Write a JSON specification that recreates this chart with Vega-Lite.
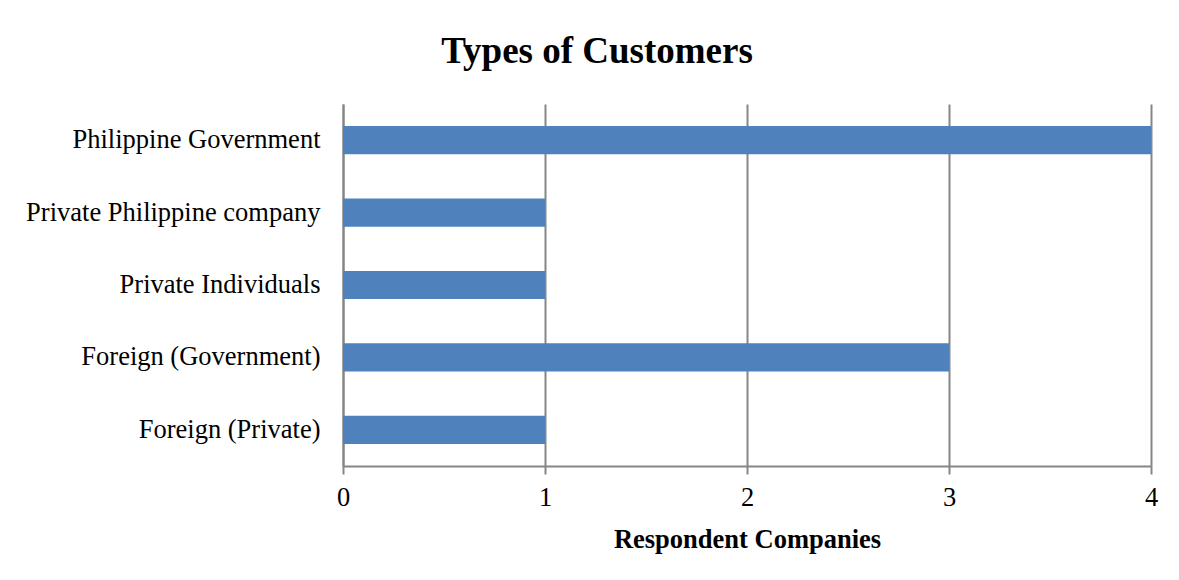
{
  "$schema": "https://vega.github.io/schema/vega-lite/v6.json",
  "width": 808,
  "height": 362,
  "autosize": {"type": "none"},
  "padding": {"left": 343, "top": 104, "right": 28, "bottom": 114},
  "background": "white",
  "title": {
    "text": "Types of Customers",
    "font": "Liberation Serif",
    "fontSize": 37,
    "fontWeight": "bold",
    "color": "#000000",
    "anchor": "middle",
    "frame": "group",
    "dx": -150,
    "offset": 33
  },
  "config": {
    "view": {"stroke": null},
    "axis": {
      "labelFont": "Liberation Serif",
      "titleFont": "Liberation Serif",
      "labelColor": "#000000",
      "titleColor": "#000000"
    }
  },
  "data": {
    "values": [
      {"customer": "Philippine Government", "count": 4},
      {"customer": "Private Philippine company", "count": 1},
      {"customer": "Private Individuals", "count": 1},
      {"customer": "Foreign (Government)", "count": 3},
      {"customer": "Foreign (Private)", "count": 1}
    ]
  },
  "mark": {"type": "bar", "color": "#4F81BD"},
  "encoding": {
    "y": {
      "field": "customer",
      "type": "nominal",
      "sort": null,
      "scale": {"paddingInner": 0.61, "paddingOuter": 0.305},
      "axis": {
        "title": null,
        "ticks": false,
        "labelPadding": 23,
        "labelFontSize": 26.5,
        "labelLimit": 400,
        "domainColor": "#868686",
        "domainWidth": 2
      }
    },
    "x": {
      "field": "count",
      "type": "quantitative",
      "scale": {"domain": [0, 4], "nice": false},
      "axis": {
        "title": "Respondent Companies",
        "titleFontSize": 26.5,
        "titleFontWeight": "bold",
        "titlePadding": 16,
        "values": [0, 1, 2, 3, 4],
        "format": "d",
        "labelFontSize": 26.5,
        "labelFlush": false,
        "labelAlign": "center",
        "labelPadding": 10,
        "tickSize": 8,
        "tickColor": "#868686",
        "tickWidth": 2,
        "domainColor": "#868686",
        "domainWidth": 2,
        "grid": true,
        "gridColor": "#868686",
        "gridWidth": 2
      }
    }
  }
}
